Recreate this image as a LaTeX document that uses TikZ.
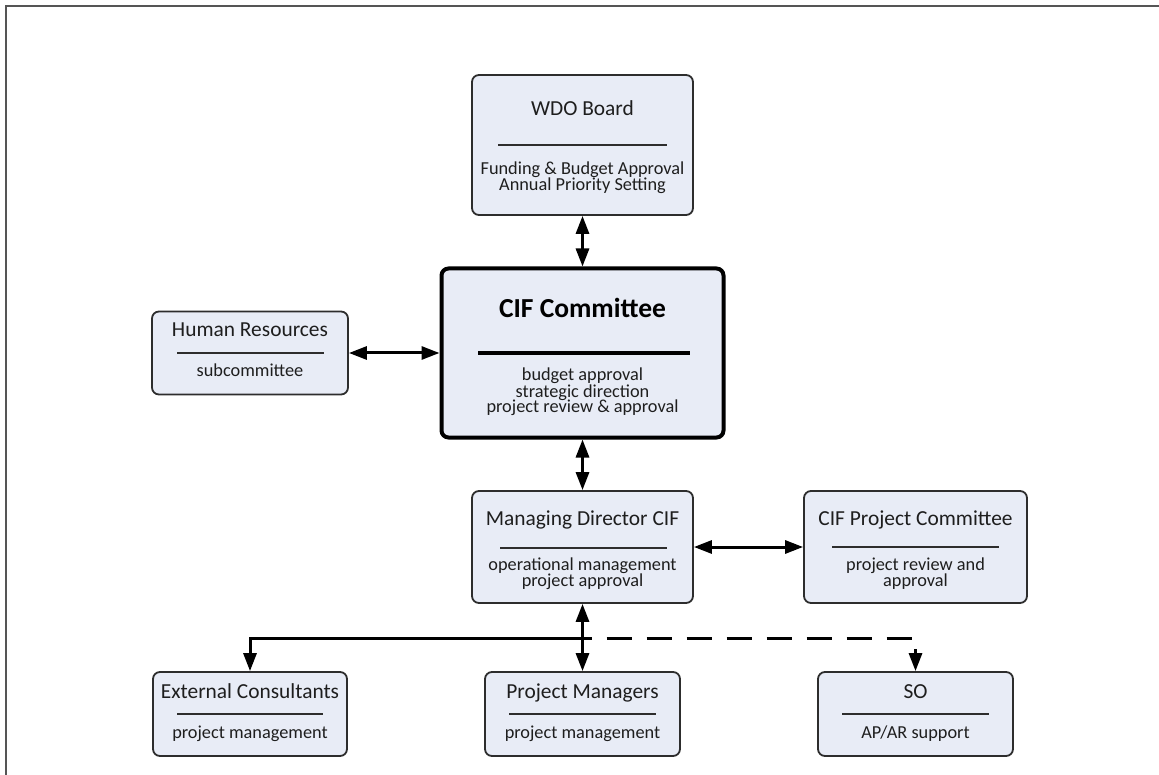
\documentclass[tikz,border=0pt]{standalone}
\usepackage{fontspec}
\setmainfont{Carlito}
\usetikzlibrary{arrows.meta}
\definecolor{boxfill}{RGB}{232,236,246}
\definecolor{boxline}{RGB}{45,45,45}
\definecolor{framegray}{RGB}{85,85,85}
\definecolor{txt}{RGB}{30,30,30}
\begin{document}
\begin{tikzpicture}[x=1pt,y=-1pt,
  >={Triangle[length=18pt,width=13pt]},
  box/.style={draw=boxline, line width=1.8pt, fill=boxfill, rounded corners=7pt, inner sep=0pt},
  bigbox/.style={box, draw=black, line width=4pt},
  ttl/.style={anchor=base, inner sep=0pt, text=txt, font=\fontsize{21.4}{24}\selectfont},
  bigttl/.style={anchor=base, inner sep=0pt, text=black, font=\fontsize{27.5}{30}\selectfont\bfseries},
  bdy/.style={anchor=base, inner sep=0pt, text=txt, font=\fontsize{18.3}{20}\selectfont},
  rule/.style={draw=boxline, line width=1.8pt},
  conn/.style={line width=3pt, draw=black},
]
\useasboundingbox (0,0) rectangle (1159,775);
\draw[framegray, line width=2pt] (6,775) -- (6,6) -- (1159,6);

% boxes
\node[box, minimum width=221pt, minimum height=140pt] (wdo) at (582.5,145) {};
\node[bigbox, minimum width=282pt, minimum height=169pt] (cif) at (582.5,353) {};
\node[box, minimum width=196pt, minimum height=83pt] (hr) at (250,353) {};
\node[box, minimum width=221pt, minimum height=112pt] (md) at (582.5,547) {};
\node[box, minimum width=223pt, minimum height=112pt] (cpc) at (915.5,547) {};
\node[box, minimum width=194pt, minimum height=84pt] (ext) at (250,714) {};
\node[box, minimum width=195pt, minimum height=84pt] (pm) at (582.5,714) {};
\node[box, minimum width=195pt, minimum height=84pt] (so) at (915.5,714) {};

% WDO Board
\node[ttl] (wdoT) at (582.5,116) {WDO Board};
\draw[rule] (498,145) -- (667,145);
\node[bdy] (wdoB1) at (582.5,175) {Funding \& Budget Approval};
\node[bdy] (wdoB2) at (582.5,191) {Annual Priority Setting};

% CIF Committee
\node[bigttl] (cifT) at (582.5,318) {CIF Committee};
\draw[draw=black, line width=4pt] (478,353) -- (690,353);
\node[bdy] (cifB1) at (582.5,381) {budget approval};
\node[bdy] (cifB2) at (582.5,397) {strategic direction};
\node[bdy] (cifB3) at (582.5,413) {project review \& approval};

% Human Resources
\node[ttl] (hrT) at (250,337) {Human Resources};
\draw[rule] (177,353) -- (324,353);
\node[bdy] (hrB) at (250,377) {subcommittee};

% Managing Director
\node[ttl] (mdT) at (582.5,525) {Managing Director CIF};
\draw[rule] (500,548) -- (667,548);
\node[bdy] (mdB1) at (582.5,570) {operational management};
\node[bdy] (mdB2) at (582.5,586) {project approval};

% CIF Project Committee
\node[ttl] (cpcT) at (915.5,525) {CIF Project Committee};
\draw[rule] (832,547) -- (999,547);
\node[bdy] (cpcB1) at (915.5,570) {project review and};
\node[bdy] (cpcB2) at (915.5,586) {approval};

% bottom row
\node[ttl] (extT) at (250,698) {External Consultants};
\draw[rule] (177,714) -- (323,714);
\node[bdy] (extB) at (250,738) {project management};

\node[ttl] (pmT) at (582.5,698) {Project Managers};
\draw[rule] (509,714) -- (656,714);
\node[bdy] (pmB) at (582.5,738) {project management};

\node[ttl] (soT) at (915.5,698) {SO};
\draw[rule] (842,714) -- (989,714);
\node[bdy] (soB) at (915.5,738) {AP/AR support};

% connectors
\draw[conn,<->] (wdo.south) -- (cif.north);
\draw[conn,<->] (hr.east) -- (cif.west);
\draw[conn,<->] (cif.south) -- (md.north);
\draw[conn,<->] (md.east) -- (cpc.west);
\draw[conn,<->] (md.south) -- (pm.north);
\coordinate (j) at (582.5,638);
\draw[conn,->] (j) -| (ext.north);
\draw[conn,->,dash pattern=on 25pt off 15pt, dash phase=16pt] (j) -| (so.north);
\end{tikzpicture}
\end{document}
